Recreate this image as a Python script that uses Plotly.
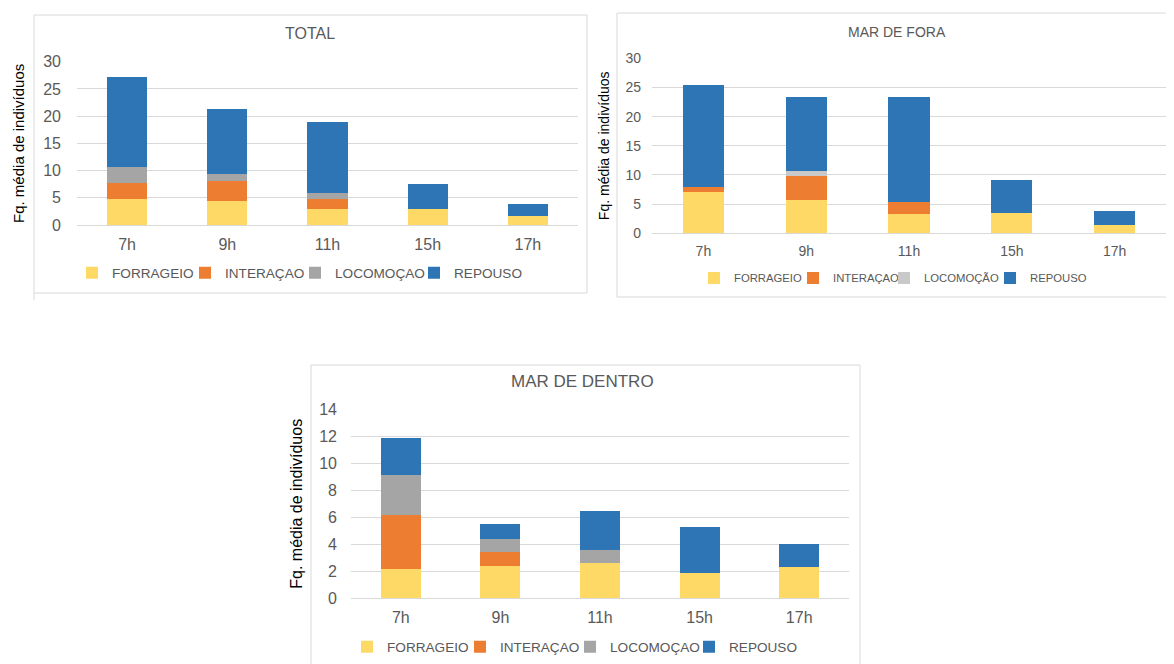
import plotly.graph_objects as go

hours = ["7h", "9h", "11h", "15h", "17h"]
series_names = ["FORRAGEIO", "INTERAÇAO", "LOCOMOÇAO", "REPOUSO"]
fora_names = ["FORRAGEIO", "INTERAÇAO", "LOCOMOÇÃO", "REPOUSO"]

# TOTAL
total_forrageio = [4.8, 4.5, 2.9, 2.9, 1.6]
total_interacao = [2.9, 3.6, 1.9, 0, 0]
total_locomocao = [3.0, 1.2, 1.0, 0, 0]
total_repouso = [16.4, 12.1, 13.2, 4.6, 2.3]

# MAR DE FORA
fora_forrageio = [7.1, 5.7, 3.3, 3.4, 1.4]
fora_interacao = [0.8, 4.1, 2.0, 0, 0]
fora_locomocao = [0, 0.8, 0, 0, 0]
fora_repouso = [17.6, 12.8, 18.1, 5.7, 2.5]

# MAR DE DENTRO
dentro_forrageio = [2.2, 2.4, 2.64, 1.85, 2.3]
dentro_interacao = [4.0, 1.0, 0, 0, 0]
dentro_locomocao = [2.95, 1.0, 0.96, 0, 0]
dentro_repouso = [2.75, 1.1, 2.9, 3.45, 1.7]

colors = ["#FFD966", "#ED7D31", "#A5A5A5", "#2E75B6"]
fora_colors = ["#FFD966", "#ED7D31", "#C9C9C9", "#2E75B6"]

FONT = "Liberation Sans, Arial, sans-serif"
W, H = 1174, 664
OX, OY = 8, 8  # page body offset

def px(x):
    return (x - OX) / W

def py(y):
    return 1 - (y - OY) / H

grid = "#D9D9D9"
tickc = "#595959"

panels = [
    dict(ax="", data=[total_forrageio, total_interacao, total_locomocao, total_repouso],
         names=series_names, cols=colors, text_x=[113, 226, 336, 455], leg_y=273, leg_size=13.6),
    dict(ax="2", data=[fora_forrageio, fora_interacao, fora_locomocao, fora_repouso],
         names=fora_names, cols=fora_colors, text_x=[735, 834, 925, 1031], leg_y=278, leg_size=11.3),
    dict(ax="3", data=[dentro_forrageio, dentro_interacao, dentro_locomocao, dentro_repouso],
         names=series_names, cols=colors, text_x=[388, 501, 611, 730], leg_y=647, leg_size=13.6),
]

fig = go.Figure()
legends = {}
li = 0
for p in panels:
    for vals, nm, c, tx in zip(p["data"], p["names"], p["cols"], p["text_x"]):
        li += 1
        lname = "legend" if li == 1 else "legend%d" % li
        fig.add_trace(go.Bar(
            x=hours, y=vals, name=nm, marker=dict(color=c, line=dict(width=0)),
            xaxis="x" + p["ax"], yaxis="y" + p["ax"], legend=lname, showlegend=True,
        ))
        legends[lname] = dict(orientation="h", x=px(tx - 41), y=py(p["leg_y"]),
                              xanchor="left", yanchor="middle", bgcolor="rgba(0,0,0,0)",
                              font=dict(size=p["leg_size"], color=tickc), itemwidth=30)

def xax(d0, d1, anchor, size, stand):
    return dict(domain=[px(d0), px(d1)], anchor=anchor, type="category", showline=False,
                tickfont=dict(size=size, color=tickc), ticks="", showgrid=False,
                automargin=False, ticklabelstandoff=stand)

def yax(top, bottom, anchor, rng, dt, size, tsize, stand, tstand):
    return dict(domain=[py(bottom), py(top)], anchor=anchor, range=rng, dtick=dt,
                gridcolor=grid, zeroline=True, zerolinecolor=grid, zerolinewidth=1,
                tickfont=dict(size=size, color=tickc), ticks="", automargin=False,
                ticklabelstandoff=stand,
                title=dict(text="Fq. média de indivíduos", font=dict(size=tsize, color="#000000"),
                           standoff=tstand))

layout = dict(
    width=W, height=H, margin=dict(l=0, r=0, t=0, b=0, autoexpand=False),
    paper_bgcolor="white", plot_bgcolor="white", showlegend=True,
    barmode="stack", bargap=0.6,
    font=dict(family=FONT, color=tickc),
    xaxis=xax(77, 578, "y", 16, 8),
    yaxis=yax(61.7, 225, "x", [0, 30], 5, 16, 15, 15, 14),
    xaxis2=xax(652, 1166, "y2", 14, 8),
    yaxis2=yax(58.3, 233.3, "x2", [0, 30], 5, 14, 14, 10, 12),
    xaxis3=xax(351, 849, "y3", 16, 8),
    yaxis3=yax(409.3, 598.3, "x3", [0, 14], 2, 16, 16, 13, 12),
    annotations=[
        dict(text="TOTAL", x=px(310), y=py(33), xref="paper", yref="paper", showarrow=False,
             xanchor="center", yanchor="middle", font=dict(size=16, color=tickc)),
        dict(text="MAR DE FORA", x=px(897), y=py(32), xref="paper", yref="paper", showarrow=False,
             xanchor="center", yanchor="middle", font=dict(size=14, color=tickc)),
        dict(text="MAR DE DENTRO", x=px(582), y=py(381), xref="paper", yref="paper", showarrow=False,
             xanchor="center", yanchor="middle", font=dict(size=17, color=tickc)),
    ],
    shapes=[
        dict(type="rect", xref="paper", yref="paper", x0=px(34), x1=px(587), y0=py(293), y1=py(15),
             line=dict(color="#D9D9D9", width=1)),
        dict(type="line", xref="paper", yref="paper", x0=px(34), x1=px(34), y0=py(300), y1=py(293),
             line=dict(color="#D9D9D9", width=1)),
        dict(type="rect", xref="paper", yref="paper", x0=px(617), x1=px(1171), y0=py(297), y1=py(13),
             line=dict(color="#D9D9D9", width=1)),
        dict(type="rect", xref="paper", yref="paper", x0=px(311), x1=px(860), y0=py(670), y1=py(365),
             line=dict(color="#D9D9D9", width=1)),
    ],
)
layout.update(legends)
fig.update_layout(**layout)
fig.write_html("out.html")
